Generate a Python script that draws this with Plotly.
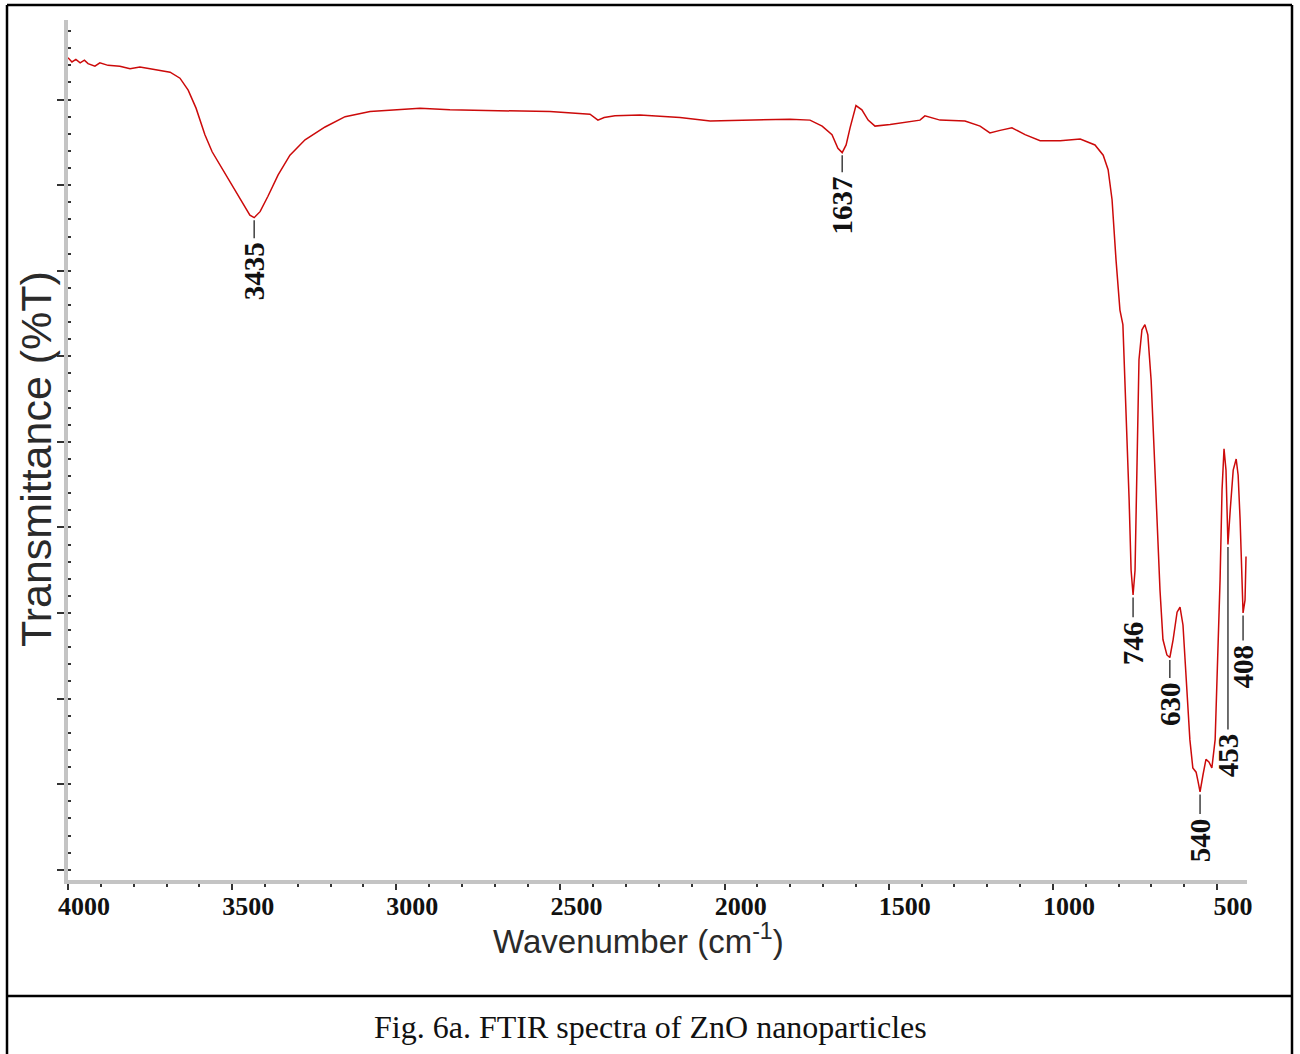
import numpy as np
import plotly.graph_objects as go

# ---------------- data ----------------
wavenumber = [
    4000, 3988, 3976, 3963, 3950, 3939, 3918, 3903, 3878, 3842,
    3811, 3781, 3750, 3720, 3689, 3659, 3634, 3610, 3583, 3561,
    3531, 3500, 3470, 3446, 3433, 3415, 3391, 3360, 3324, 3278,
    3217, 3156, 3080, 2989, 2928, 2837, 2684, 2532, 2410, 2386,
    2367, 2334, 2258, 2136, 2044, 1923, 1801, 1740, 1703, 1673,
    1655, 1642, 1630, 1618, 1600, 1582, 1563, 1542, 1496, 1405,
    1390, 1344, 1268, 1222, 1192, 1161, 1125, 1085, 1039, 978,
    917, 872, 847, 832, 820, 808, 796, 787, 778, 768,
    762, 756, 750, 744, 738, 729, 720, 711, 701, 692,
    683, 674, 665, 653, 644, 634, 622, 613, 604, 595,
    583, 574, 564, 558, 552, 543, 534, 525, 516, 506,
    497, 491, 485, 479, 473, 467, 460, 451, 442, 436,
    430, 424, 421, 415, 412,
]
transmittance = [
    94.9, 94.4, 94.7, 94.3, 94.6, 94.2, 93.9, 94.3, 94.0, 93.9,
    93.6, 93.8, 93.6, 93.4, 93.2, 92.5, 91.1, 89.0, 85.9, 83.9,
    82.0, 80.0, 78.0, 76.5, 76.2, 76.9, 78.7, 81.2, 83.5, 85.3,
    86.8, 88.0, 88.6, 88.8, 89.0, 88.8, 88.7, 88.6, 88.3, 87.6,
    87.9, 88.1, 88.2, 87.9, 87.5, 87.6, 87.7, 87.6, 86.9, 85.9,
    84.3, 83.8, 84.7, 86.7, 89.3, 88.8, 87.6, 86.9, 87.1, 87.6,
    88.1, 87.6, 87.5, 86.9, 86.1, 86.4, 86.7, 85.9, 85.2, 85.2,
    85.4, 84.7, 83.5, 81.8, 78.3, 71.3, 65.4, 63.7, 54.9, 43.2,
    35.0, 32.1, 35.0, 49.1, 59.6, 63.1, 63.7, 62.5, 57.2, 49.1,
    40.9, 32.7, 26.9, 25.1, 24.8, 26.9, 30.1, 30.7, 28.6, 22.2,
    15.2, 11.9, 11.4, 10.3, 9.1, 11.1, 12.9, 12.6, 11.9, 15.2,
    25.7, 33.9, 44.4, 49.2, 46.7, 38.0, 42.1, 46.7, 48.0, 46.1,
    40.9, 32.7, 30.0, 31.5, 36.6,
]

peak_labels = ["3435", "1637", "746", "630", "540", "453", "408"]
peak_positions = [3437, 1639, 756, 646, 552, 464, 418]
x_tick_values = [4000, 3500, 3000, 2500, 2000, 1500, 1000, 500]
x_tick_text = ["4000", "3500", "3000", "2500", "2000", "1500", "1000", "500"]

caption = "Fig. 6a. FTIR spectra of ZnO nanoparticles"

# ---------------- style ----------------
leader_lengths = [2.1, 2.0, 2.3, 2.1, 2.3, 21.3, 2.9]
W, H = 1300, 1054
ML, MR, MT, MB = 68, 53, 20, 174
PW, PH = W - ML - MR, H - MT - MB


def px_x(p):
    return (p - ML) / PW


def px_y(p):
    return (H - MB - p) / PH


wn = np.array(wavenumber, dtype=float)
tr = np.array(transmittance, dtype=float)

fig = go.Figure()
fig.add_trace(go.Scatter(
    x=wn, y=tr, mode="lines",
    line=dict(color="#cc0a0a", width=1.5),
    hoverinfo="x+y", showlegend=False,
))

shapes = []
annotations = []
for lab, pos, lead in zip(peak_labels, peak_positions, leader_lengths):
    i = int(np.argmin(np.abs(wn - pos)))
    x0, y0 = wn[i], tr[i]
    y_top = y0 - 0.3
    y_bot = y_top - lead
    shapes.append(dict(type="line", xref="x", yref="y", x0=x0, x1=x0,
                       y0=y_top, y1=y_bot,
                       line=dict(color="#222222", width=1.3)))
    annotations.append(dict(x=x0, y=y_bot, xref="x", yref="y", text=lab,
                            textangle=-90, showarrow=False,
                            xanchor="center", yanchor="top", yshift=-2,
                            font=dict(family="Liberation Serif", size=29,
                                      color="#111111", weight="bold")))

# outer frame and caption separator
frame = dict(color="black", width=2.5)
shapes += [
    dict(type="line", xref="paper", yref="paper", x0=px_x(7), x1=px_x(7),
         y0=px_y(5), y1=px_y(1054), line=frame),
    dict(type="line", xref="paper", yref="paper", x0=px_x(1292), x1=px_x(1292),
         y0=px_y(5), y1=px_y(1054), line=frame),
    dict(type="line", xref="paper", yref="paper", x0=px_x(7), x1=px_x(1292),
         y0=px_y(5), y1=px_y(5), line=frame),
    dict(type="line", xref="paper", yref="paper", x0=px_x(7), x1=px_x(1292),
         y0=px_y(996), y1=px_y(996), line=frame),
]

annotations += [
    dict(text="Wavenumber (cm<sup>-1</sup>)", xref="paper", yref="paper",
         x=px_x(638), y=px_y(939), showarrow=False, xanchor="center",
         yanchor="middle",
         font=dict(family="Liberation Sans", size=33, color="#2a2a2a")),
    dict(text="Transmittance (%T)", xref="paper", yref="paper",
         x=px_x(36), y=px_y(459), showarrow=False, xanchor="center",
         yanchor="middle", textangle=-90,
         font=dict(family="Liberation Sans", size=43, color="#2a2a2a")),
    dict(text=caption, xref="paper", yref="paper",
         x=px_x(650), y=px_y(1027), showarrow=False, xanchor="center",
         yanchor="middle",
         font=dict(family="Liberation Serif", size=32, color="#111111")),
]

fig.update_layout(
    width=W, height=H,
    margin=dict(l=ML, r=MR, t=MT, b=MB, pad=0),
    paper_bgcolor="white", plot_bgcolor="white",
    shapes=shapes, annotations=annotations,
    showlegend=False,
)

fig.update_xaxes(
    range=[4000, 409], autorange=False,
    tickmode="array", tickvals=x_tick_values, ticktext=x_tick_text,
    ticks="outside", ticklen=6, tickwidth=1.5, tickcolor="#333333",
    ticklabelshift=-16, ticklabelstandoff=-6,
    minor=dict(dtick=100, tick0=0, ticks="outside", ticklen=3,
               tickwidth=2, tickcolor="#333333"),
    showline=True, linecolor="#c4c4c4", linewidth=4,
    showgrid=False, zeroline=False,
    tickfont=dict(family="Liberation Serif", size=26, color="#111111",
                  weight="bold"),
)
fig.update_yaxes(
    range=[-1.2, 99.3], autorange=False,
    dtick=10, tick0=0, showticklabels=False,
    ticks="outside", ticklen=7, tickwidth=1.5, tickcolor="#333333",
    minor=dict(dtick=2, tick0=0, ticks="inside", ticklen=3,
               tickwidth=2, tickcolor="#333333"),
    showline=True, linecolor="#c4c4c4", linewidth=4,
    showgrid=False, zeroline=False,
)

fig.write_html("out.html")
